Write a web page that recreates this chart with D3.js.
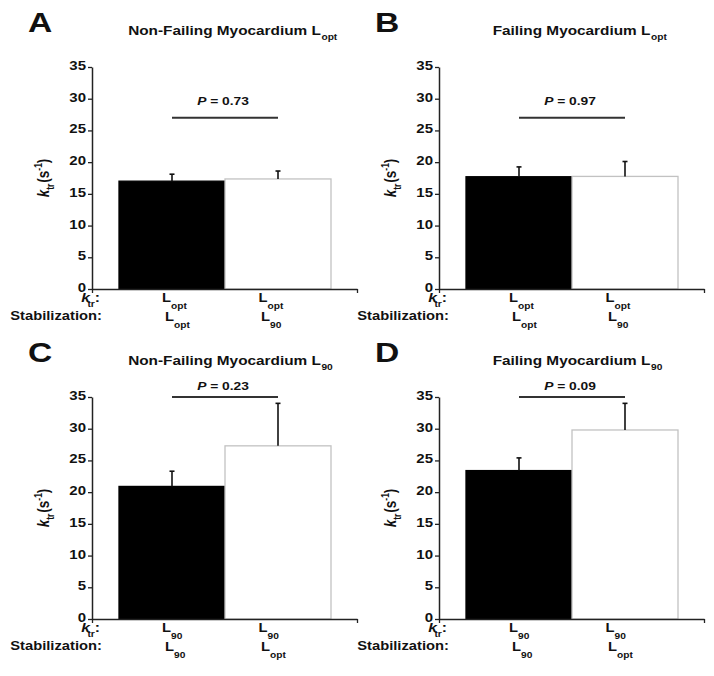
<!DOCTYPE html>
<html><head><meta charset="utf-8">
<script src="https://cdn.jsdelivr.net/npm/d3@7"></script>
<style>
body{margin:0;background:#fff}
svg{display:block}
text{font-family:"Liberation Sans",Arial,Helvetica,sans-serif;font-weight:bold;fill:#111}
</style>
</head><body>
<svg id="chart" width="714" height="676"></svg>
<script>
// ---------- data ----------
const panelLetters = ["A", "B", "C", "D"];
const panelTitles = ["Non-Failing Myocardium L", "Failing Myocardium L", "Non-Failing Myocardium L", "Failing Myocardium L"];
const titleSubs = ["opt", "opt", "90", "90"];
const categories = ["black", "white"];
const means = [[17.0, 17.35], [17.7, 17.75], [20.9, 27.3], [23.4, 29.8]];
const sems = [[1.1, 1.25], [1.55, 2.35], [2.4, 6.7], [2.0, 4.2]];
const pValues = ["0.73", "0.97", "0.23", "0.09"];
const sigLevels = [27, 27, 35, 35];
const ktrSubs = [["opt", "opt"], ["opt", "opt"], ["90", "90"], ["90", "90"]];
const stabSubs = [["opt", "90"], ["opt", "90"], ["90", "opt"], ["90", "opt"]];
const yTicks = [0, 5, 10, 15, 20, 25, 30, 35];
const yDomain = [0, 35];

// ---------- style / layout ----------
const SX = 1.2;                  // horizontal stretch of the reference image text
const colAxisX = [92, 439];
const rowTop = [67, 397];
const plotH = 222, axisLen = 265;
const barStart = 27, barEnd = 239;
const barFills = ["#000", "#fff"];
const barStrokes = ["#000", "#c2c2c2"];
const pGap = [13, 7];
const lab1Off = [-10, -19.5], lab2Off = [-7, -17];

const svg = d3.select("#chart");

panelLetters.forEach((letter, i) => {
  const col = i % 2, row = Math.floor(i / 2);
  const ax = colAxisX[col], top = rowTop[row], bottom = top + plotH;
  const g = svg.append("g");

  const y = d3.scaleLinear().domain(yDomain).range([bottom, top]);
  const x = d3.scaleBand().domain(categories).range([ax + barStart, ax + barEnd]).paddingInner(0).paddingOuter(0);
  const xl = d3.scaleLinear().domain([0, 1]).range([ax, ax + axisLen]);
  const bw = x.bandwidth();
  const cx = c => x(c) + bw / 2;

  // bars
  g.selectAll("rect.bar").data(categories).join("rect")
    .attr("x", c => x(c)).attr("width", bw)
    .attr("y", (c, j) => y(means[i][j]))
    .attr("height", (c, j) => y(0) - y(means[i][j]))
    .attr("fill", (c, j) => barFills[j])
    .attr("stroke", (c, j) => barStrokes[j])
    .attr("stroke-width", 1.3);

  // error bars (upper only)
  categories.forEach((c, j) => {
    const m = means[i][j], s = sems[i][j];
    g.append("line").attr("x1", cx(c)).attr("x2", cx(c))
      .attr("y1", y(m)).attr("y2", y(m + s))
      .attr("stroke", "#111").attr("stroke-width", 1.6);
    g.append("line").attr("x1", cx(c) - 2.5).attr("x2", cx(c) + 2.5)
      .attr("y1", y(m + s)).attr("y2", y(m + s))
      .attr("stroke", "#111").attr("stroke-width", 1.6);
  });

  // y axis
  const ya = g.append("g").attr("transform", `translate(${ax},0)`)
    .call(d3.axisLeft(y).tickValues(yTicks).tickSize(4).tickSizeOuter(0))
    .attr("font-size", 12.5).attr("font-family", null);
  ya.select(".domain").attr("stroke", "#222").attr("stroke-width", 1.5);
  ya.selectAll(".tick line").attr("stroke", "#222").attr("stroke-width", 1.3);
  ya.selectAll(".tick text").attr("x", -5).attr("dy", "0.2em").attr("transform", `scale(${SX},1)`);

  // x axis
  const xa = g.append("g").attr("transform", `translate(0,${bottom})`)
    .call(d3.axisBottom(xl).tickValues([0, 1]).tickSize(4).tickSizeOuter(0).tickFormat(""));
  xa.select(".domain").attr("stroke", "#222").attr("stroke-width", 1.5);
  xa.selectAll(".tick line").attr("stroke", "#222").attr("stroke-width", 1.3);

  // significance line + P text
  const sy = y(sigLevels[i]);
  g.append("line").attr("x1", cx(categories[0])).attr("x2", cx(categories[1]))
    .attr("y1", sy).attr("y2", sy).attr("stroke", "#333").attr("stroke-width", 2);
  const pt = g.append("g")
    .attr("transform", `translate(${(cx(categories[0]) + cx(categories[1])) / 2 - 2},${sy - pGap[row]}) scale(${SX},1)`)
    .append("text").attr("text-anchor", "middle").attr("font-size", 11.5);
  pt.append("tspan").attr("font-style", "italic").text("P");
  pt.append("tspan").text(" = " + pValues[i]);

  // panel letter
  g.append("text").attr("transform", `translate(${ax - 64},${top - 35}) scale(${SX},1)`)
    .attr("font-size", 28).text(letter);

  // title with subscript
  const tg = g.append("g").attr("transform", `translate(${ax + axisLen / 2},${top - 32}) scale(${SX},1)`);
  const tmain = tg.append("text").attr("text-anchor", "middle").attr("font-size", 12.8).text(panelTitles[i]);
  const tw = tmain.node().getComputedTextLength();
  tg.append("text").attr("x", tw / 2 + 0.5).attr("y", 5).attr("font-size", 8.5).text(titleSubs[i]);

  // y axis label
  const yl = g.append("g")
    .attr("transform", `translate(${ax - 43},${(top + bottom) / 2}) scale(${SX},1) rotate(-90)`)
    .append("text").attr("text-anchor", "middle").attr("font-size", 13.5);
  yl.append("tspan").attr("font-style", "italic").text("k");
  yl.append("tspan").attr("font-size", 8.5).attr("dy", 4).text("tr");
  yl.append("tspan").attr("dy", -4).attr("dx", 1).text("(s");
  yl.append("tspan").attr("font-size", 8.5).attr("dy", -6).text("-1");
  yl.append("tspan").attr("dy", 6).text(")");

  // row labels under the axis
  const kl = g.append("g").attr("transform", `translate(${ax + 8},${bottom + 13}) scale(${SX},1)`)
    .append("text").attr("text-anchor", "end").attr("font-size", 13);
  kl.append("tspan").attr("font-style", "italic").text("k");
  kl.append("tspan").attr("font-size", 8.5).attr("dy", 5).attr("dx", -2).text("tr");
  kl.append("tspan").attr("dy", -5).text(":");

  g.append("text").attr("transform", `translate(${ax + 10},${bottom + 31}) scale(${SX},1)`)
    .attr("text-anchor", "end").attr("font-size", 12.3).text("Stabilization:");

  // category labels
  categories.forEach((c, j) => {
    const t1 = g.append("text")
      .attr("transform", `translate(${cx(c) + lab1Off[j]},${bottom + 13}) scale(${SX},1)`)
      .attr("font-size", 12.3);
    t1.append("tspan").text("L");
    t1.append("tspan").attr("font-size", 8.5).attr("dy", 7).text(ktrSubs[i][j]);
    const t2 = g.append("text")
      .attr("transform", `translate(${cx(c) + lab2Off[j]},${bottom + 32}) scale(${SX},1)`)
      .attr("font-size", 12.3);
    t2.append("tspan").text("L");
    t2.append("tspan").attr("font-size", 8.5).attr("dy", 7).text(stabSubs[i][j]);
  });
});
</script>
</body></html>
